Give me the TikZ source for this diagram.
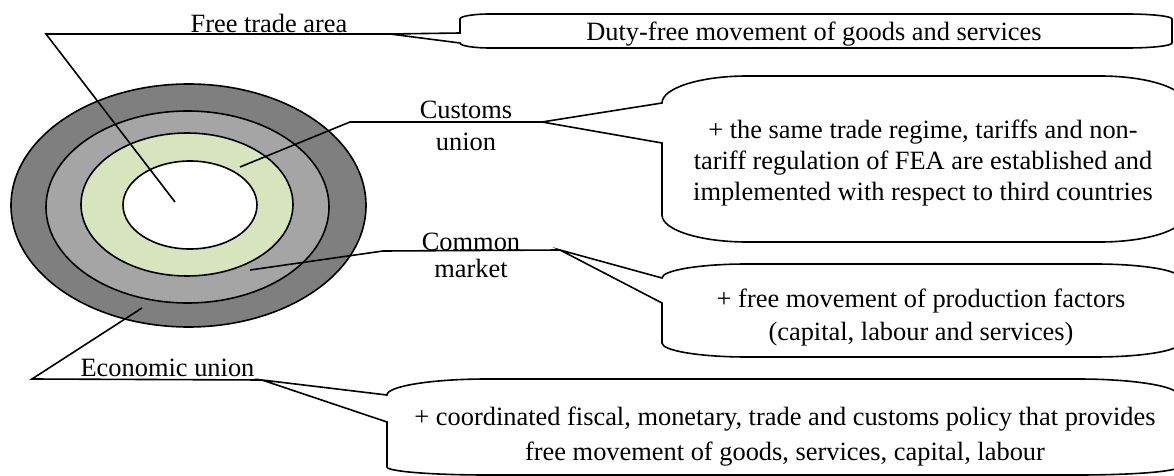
\documentclass[tikz,border=0pt]{standalone}
\usepackage{fontspec}
\setmainfont{Liberation Serif}
\definecolor{ringdark}{HTML}{7F7F7F}
\definecolor{ringmid}{HTML}{A5A5A5}
\definecolor{ringgreen}{HTML}{D7E4BD}
\newcommand{\mlines}[2]{\fontsize{13.2}{#1}\selectfont\begin{tabular}[t]{@{}c@{}}#2\end{tabular}}
\tikzset{
  ring/.style={draw=black, line width=0.8pt},
  leader/.style={draw=black, line width=0.8pt},
  callbox/.style={draw=black, line width=0.8pt, fill=white},
  lbl/.style={inner sep=0pt, anchor=base, font=\fontsize{13.2}{15.5}\selectfont},
}
\begin{document}
\begin{tikzpicture}[x=0.5pt, y=-0.5pt]
\clip (0,0) rectangle (1174,476);
\fill[white] (0,0) rectangle (1174,476);

% rings
\draw[ring, fill=ringdark]  (188.5,205.5) ellipse [x radius=177.5, y radius=121.5];
\draw[ring, fill=ringmid]   (187.5,207)   ellipse [x radius=141.5, y radius=96];
\draw[ring, fill=ringgreen] (187,204.5)   ellipse [x radius=106,   y radius=71.5];
\draw[ring, fill=white]     (190,205)     ellipse [x radius=67,    y radius=44];

% named points
\coordinate (ftaIn)   at (175,202);
\coordinate (ftaBend) at (46,34);
\coordinate (ftaTip)  at (390,34);
\coordinate (cuIn)    at (240,167);
\coordinate (cuBend)  at (350,122);
\coordinate (cuTip)   at (542,122);
\coordinate (cmIn)    at (250,270);
\coordinate (cmBend)  at (383,251);
\coordinate (cmTip)   at (560,250);
\coordinate (euIn)    at (142,308);
\coordinate (euBend)  at (32,379);
\coordinate (euTip)   at (262,380);

% callout boxes
\draw[callbox] (ftaTip) -- (460,33) -- (460,19)
  .. controls (460,16.24) and (473.43,14) .. (490,14) -- (1127,14)
  .. controls (1151.85,14) and (1172,16.24) .. (1172,19) -- (1172,43)
  .. controls (1172,45.76) and (1151.85,48) .. (1127,48) -- (490,48)
  .. controls (473.43,48) and (460,45.76) .. (460,43) -- cycle;

\draw[callbox] (cuTip) -- (662,103)
  .. controls (662,88.09) and (700.05,76) .. (747,76) -- (1100,76)
  .. controls (1146.95,76) and (1185,88.09) .. (1185,103) -- (1185,215)
  .. controls (1185,229.91) and (1146.95,242) .. (1100,242) -- (747,242)
  .. controls (700.05,242) and (662,229.91) .. (662,215) -- (662,143) -- cycle;

\draw[callbox] (cmTip) -- (662,278)
  .. controls (662,270.27) and (700.05,264) .. (747,264) -- (1095,264)
  .. controls (1141.95,264) and (1180,270.27) .. (1180,278) -- (1180,343)
  .. controls (1180,350.73) and (1141.95,357) .. (1095,357) -- (747,357)
  .. controls (700.05,357) and (662,350.73) .. (662,343) -- (662,303) -- cycle;

\draw[callbox] (euTip) -- (387,395)
  .. controls (387,386.16) and (431.77,379) .. (487,379) -- (1078,379)
  .. controls (1133.23,379) and (1178,386.16) .. (1178,395) -- (1178,467)
  .. controls (1178,471.42) and (1133.23,475) .. (1078,475) -- (487,475)
  .. controls (431.77,475) and (387,471.42) .. (387,467) -- (387,422) -- cycle;

% leaders
\draw[leader] (ftaIn) -- (ftaBend) -- (ftaTip);
\draw[leader] (cuIn) -- (cuBend) -- (cuTip);
\draw[leader] (cmIn) -- (cmBend) -- (cmTip);
\draw[leader] (euIn) -- (euBend) -- (euTip);

% labels
\node[lbl] (ftaLabel) at (269,32.5) {Free trade area};
\node[lbl] (cuLabel) at (466,119) {\mlines{16}{Customs\\union}};
\node[lbl] (cmLabel) at (471,250) {\mlines{13.5}{Common\\market}};
\node[lbl] (euLabel) at (167.5,376) {Economic union};

% box texts
\node[lbl] (ftaText) at (814,40.5) {Duty-free movement of goods and services};
\node[lbl] (cuText) at (923,138.5) {\mlines{15.5}{+ the same trade regime, tariffs and non-\\tariff regulation of FEA are established and\\implemented with respect to third countries}};
\node[lbl] (cmText) at (921,307.5) {\mlines{16.5}{+ free movement of production factors\\(capital, labour and services)}};
\node[lbl] (euText) at (785,425.5) {\mlines{17.5}{+ coordinated fiscal, monetary, trade and customs policy that provides\\free movement of goods, services, capital, labour}};
\end{tikzpicture}
\end{document}
